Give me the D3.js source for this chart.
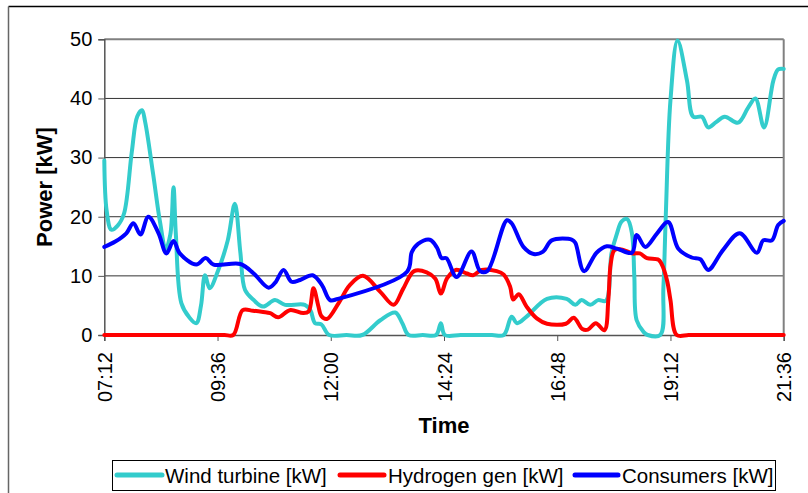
<!DOCTYPE html>
<html><head><meta charset="utf-8">
<script src="https://cdn.jsdelivr.net/npm/d3@7"></script>
<style>body{margin:0;background:#fff}svg{display:block;font-family:"Liberation Sans",Arial,sans-serif}</style>
</head><body><svg id="c" width="808" height="493"></svg>
<script>
const windTimes = ["07:12","07:15","07:21","07:29","07:37","07:47","07:54","08:00","08:04","08:14","08:23","08:30","08:36","08:40","08:43","08:50","09:00","09:09","09:15","09:20","09:26","09:37","09:49","09:58","10:05","10:11","10:22","10:34","10:49","11:02","11:27","11:34","11:40","11:48","11:58","12:20","12:40","13:03","13:22","13:31","13:39","13:57","14:14","14:20","14:25","14:45","15:05","15:25","15:40","15:50","15:57","16:09","16:35","17:00","17:11","17:19","17:30","17:40","17:50","17:57","18:04","18:10","18:17","18:23","18:26","18:29","18:38","18:43","18:59","19:03","19:06","19:12","19:21","19:33","19:41","19:52","20:00","20:10","20:21","20:38","20:51","21:00","21:11","21:23","21:29","21:36"];
const windValues = [29.5,21,17.8,18.5,20.5,31,37,38,36,27.3,19,14.5,17,25,17,5.4,3,2,5,10.1,7.9,11,16,22.2,14,7.6,5.9,4.8,5.9,5.1,5.1,4.2,2,1.8,0,0,0,2.5,3.8,2,0,0,0,2,0,0,0,0,0,3.1,2,3.1,6.1,6.1,5.1,5.9,5.1,5.9,5.8,13.8,17.2,19.2,19.6,17.2,10,2.5,0.5,0,0,8,20,39.7,49.8,43,36.9,36.9,35.1,36,36.9,35.9,38.5,40,35.1,43.1,44.9,45];

const hydrogenTimes = ["07:12","07:30","07:50","08:10","08:30","08:50","09:10","09:30","09:45","09:56","10:08","10:21","10:34","10:43","10:53","11:08","11:25","11:32","11:38","11:44","11:48","11:55","12:10","12:24","12:41","13:03","13:20","13:32","13:46","14:02","14:13","14:20","14:28","14:39","14:53","15:01","15:12","15:31","15:40","15:48","15:52","15:59","16:09","16:22","16:35","16:59","17:09","17:20","17:27","17:37","17:48","17:53","17:56","18:01","18:12","18:23","18:33","18:42","18:57","19:03","19:08","19:12","19:20","19:35","19:50","20:10","20:30","20:50","21:10","21:25","21:36"];
const hydrogenValues = [0,0,0,0,0,0,0,0,0,0,4.2,4.1,3.9,3.7,3.0,4.2,3.7,4.0,7.9,5,3.2,2.7,5.4,8.4,10,7.3,5.1,7.8,10.8,10.6,9.5,7,9.6,11,10.4,10.1,11,10.8,10.2,8.2,6,6.9,4.8,2.8,1.9,1.9,2.9,1,0.9,2,0.8,6,12,14.4,14.4,13.8,13.8,13,12.7,11.3,9,5.9,0,0,0,0,0,0,0,0,0];

const consumerTimes = ["07:12","07:26","07:40","07:49","07:58","08:08","08:21","08:31","08:40","08:48","09:09","09:21","09:31","10:05","10:22","10:41","10:49","11:00","11:10","11:21","11:37","11:49","11:59","12:09","13:37","13:43","13:51","14:06","14:15","14:21","14:27","14:40","14:59","15:10","15:19","15:44","15:50","16:05","16:18","16:30","16:41","17:07","17:11","17:22","17:38","17:51","18:04","18:23","18:29","18:40","18:55","19:09","19:22","19:39","19:50","20:00","20:19","20:40","21:02","21:10","21:21","21:29","21:36"];
const consumerValues = [14.9,15.8,17.2,18.9,17,20,17.2,13.8,15.9,13.8,11.9,13,11.9,12,10.4,8,8.8,11,9,9.3,10.1,8.4,5.9,6.1,10.7,14,15.4,16.1,14.8,13,13,9.8,14.1,10.8,10.8,19.4,18.9,14.9,13.7,14.1,16,16.1,15.6,10.8,13.9,15,14.6,13.9,16.9,14.9,17.2,19.1,14.6,13.1,12.8,11,14.4,17.2,13.9,16,16,18.6,19.3];

const seriesNames = ["Wind turbine [kW]","Hydrogen gen [kW]","Consumers [kW]"];
const seriesColors = ["#33CCCC","#FF0000","#0000FF"];
const xTickLabels = ["07:12","09:36","12:00","14:24","16:48","19:12","21:36"];
const yTickValues = [0,10,20,30,40,50];

const toMin = s => { const [h,m] = s.split(":").map(Number); return h*60+m; };
const fmt = m => String(Math.floor(m/60)).padStart(2,"0")+":"+String(m%60).padStart(2,"0");

const svg = d3.select("#c");
const L=104.3, R=783.7, T=39.3, B=335;
const x = d3.scaleLinear().domain([toMin("07:12"), toMin("21:36")]).range([L,R]);
const y = d3.scaleLinear().domain([0,50]).range([B,T]);

// outer frame
svg.append("line").attr("x1",8.5).attr("x2",808).attr("y1",6.5).attr("y2",6.5).attr("stroke","#000").attr("stroke-width",1.5);
svg.append("line").attr("x1",8.5).attr("x2",8.5).attr("y1",6.5).attr("y2",493).attr("stroke","#666").attr("stroke-width",1.5);

// gridlines
svg.append("g").selectAll("line").data(yTickValues.filter(v=>v>0)).join("line")
  .attr("x1",L).attr("x2",R).attr("y1",d=>y(d)).attr("y2",d=>y(d))
  .attr("stroke",d=>d===50?"#808080":"#333").attr("stroke-width",d=>d===50?2:1);
// right border
svg.append("line").attr("x1",R).attr("x2",R).attr("y1",T).attr("y2",B).attr("stroke","#808080").attr("stroke-width",2);

// y axis
const yAxis = svg.append("g").attr("transform",`translate(${L},0)`)
  .call(d3.axisLeft(y).tickValues(yTickValues).tickSize(6).tickPadding(6));
yAxis.select(".domain").attr("stroke","#555").attr("stroke-width",1.5);
yAxis.selectAll(".tick line").attr("stroke","#555");
yAxis.selectAll("text").attr("font-size","20px").attr("fill","#000").attr("font-family","Liberation Sans, Arial, sans-serif");

// x axis
const xAxis = svg.append("g").attr("transform",`translate(0,${B})`)
  .call(d3.axisBottom(x).tickValues(xTickLabels.map(toMin)).tickFormat(fmt).tickSize(6));
xAxis.select(".domain").attr("stroke","#555").attr("stroke-width",1.5);
xAxis.selectAll(".tick line").attr("stroke","#555");
xAxis.selectAll("text").attr("font-size","20px").attr("fill","#000").attr("font-family","Liberation Sans, Arial, sans-serif")
  .attr("transform","rotate(-90)").attr("text-anchor","end").attr("x",-17).attr("y",0).attr("dy","0.35em");

// axis titles
svg.append("text").attr("transform","translate(52,187) rotate(-90)").attr("text-anchor","middle")
  .attr("font-size","22px").attr("font-weight","bold").text("Power [kW]");
svg.append("text").attr("x",444).attr("y",433).attr("text-anchor","middle")
  .attr("font-size","22px").attr("font-weight","bold").text("Time");

// lines
const line = d3.line().x(d=>x(d.t)).y(d=>y(d.v)).curve(d3.curveCatmullRom.alpha(0.5));
const series = [
  windTimes.map((t,i)=>({t:toMin(t),v:windValues[i]})),
  hydrogenTimes.map((t,i)=>({t:toMin(t),v:hydrogenValues[i]})),
  consumerTimes.map((t,i)=>({t:toMin(t),v:consumerValues[i]}))
];
series.forEach((s,i)=>{
  svg.append("path").datum(s).attr("d",line).attr("fill","none")
    .attr("stroke",seriesColors[i]).attr("stroke-width",4).attr("stroke-linejoin","round").attr("stroke-linecap","round");
});

// legend
svg.append("rect").attr("x",112.5).attr("y",460.5).attr("width",663).attr("height",30).attr("fill","#fff").attr("stroke","#000").attr("stroke-width",1);
const legX = [[117,162,165],[340,384,388],[575,618,622]];
seriesNames.forEach((n,i)=>{
  svg.append("line").attr("x1",legX[i][0]).attr("x2",legX[i][1]).attr("y1",475).attr("y2",475)
    .attr("stroke",seriesColors[i]).attr("stroke-width",5).attr("stroke-linecap","round");
  svg.append("text").attr("x",legX[i][2]).attr("y",482.5).attr("font-size","20.5px").text(n);
});
</script></body></html>
